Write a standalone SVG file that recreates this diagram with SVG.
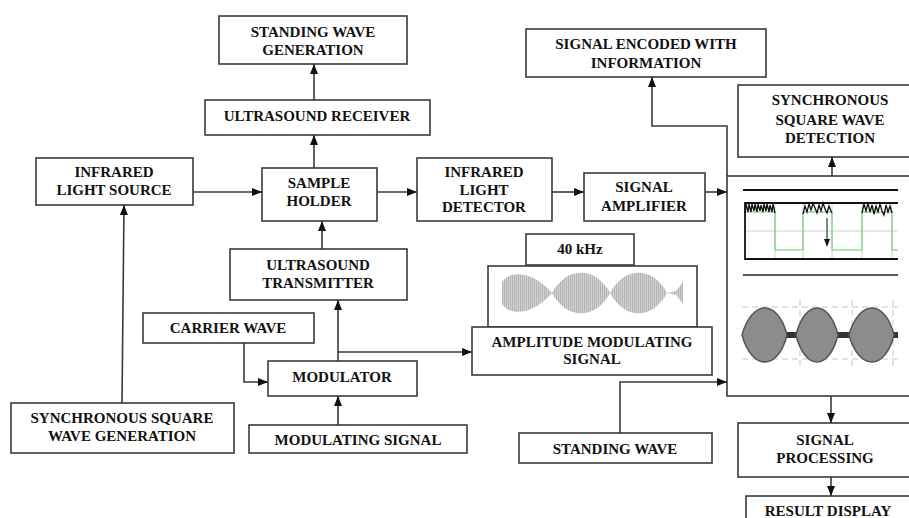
<svg xmlns="http://www.w3.org/2000/svg" width="909" height="518" viewBox="0 0 909 518">
<style>
.box{fill:#fff;stroke:#3a3a3a;stroke-width:1.6}
.t{font-family:"Liberation Serif","Times New Roman",serif;font-weight:bold;font-size:15px;fill:#111;text-anchor:middle}
.c{fill:none;stroke:#3a3a3a;stroke-width:1.6}
.ca{fill:none;stroke:#3a3a3a;stroke-width:1.6;marker-end:url(#ah)}
.grid{stroke:#d0d0d0;stroke-width:1;fill:none}
.noise{fill:none;stroke:#111;stroke-width:1.3}
</style>
<defs>
<marker id="ah" markerUnits="userSpaceOnUse" markerWidth="10" markerHeight="8" refX="10" refY="4" orient="auto">
<path d="M0,0 L10,4 L0,8 Z" fill="#111"/>
</marker>
<pattern id="hatch" patternUnits="userSpaceOnUse" width="2" height="4">
<rect width="2" height="4" fill="#d2d2d2"/>
<rect width="1" height="4" fill="#b4b4b4"/>
</pattern>
</defs>

<g id="standing-wave-generation">
<rect class="box" x="219" y="16" width="188" height="48"/>
<text class="t" x="313" y="37">STANDING WAVE</text>
<text class="t" x="313" y="55">GENERATION</text>
</g>
<g id="ultrasound-receiver">
<rect class="box" x="205" y="100" width="225" height="35"/>
<text class="t" x="317" y="121">ULTRASOUND RECEIVER</text>
</g>
<g id="infrared-light-source">
<rect class="box" x="36" y="158" width="157" height="47"/>
<text class="t" x="114" y="177">INFRARED</text>
<text class="t" x="114" y="195">LIGHT SOURCE</text>
</g>
<g id="sample-holder">
<rect class="box" x="262" y="168" width="115" height="53"/>
<text class="t" x="319" y="188">SAMPLE</text>
<text class="t" x="319" y="206">HOLDER</text>
</g>
<g id="infrared-light-detector">
<rect class="box" x="417" y="158" width="135" height="63"/>
<text class="t" x="484" y="177">INFRARED</text>
<text class="t" x="484" y="195">LIGHT</text>
<text class="t" x="484" y="212">DETECTOR</text>
</g>
<g id="signal-amplifier">
<rect class="box" x="584" y="173" width="121" height="48"/>
<text class="t" x="644" y="192">SIGNAL</text>
<text class="t" x="644" y="211">AMPLIFIER</text>
</g>
<g id="signal-encoded">
<rect class="box" x="526" y="29" width="240" height="48"/>
<text class="t" x="646" y="49">SIGNAL ENCODED WITH</text>
<text class="t" x="646" y="68">INFORMATION</text>
</g>
<g id="sync-square-wave-detection">
<rect class="box" x="738" y="85" width="180" height="72"/>
<text class="t" x="830" y="105">SYNCHRONOUS</text>
<text class="t" x="830" y="125">SQUARE WAVE</text>
<text class="t" x="830" y="143">DETECTION</text>
</g>
<g id="ultrasound-transmitter">
<rect class="box" x="230" y="249" width="177" height="51"/>
<text class="t" x="318" y="270">ULTRASOUND</text>
<text class="t" x="318" y="288">TRANSMITTER</text>
</g>
<g id="carrier-wave">
<rect class="box" x="143" y="313" width="171" height="30"/>
<text class="t" x="228" y="333">CARRIER WAVE</text>
</g>
<g id="modulator">
<rect class="box" x="268" y="361" width="149" height="35"/>
<text class="t" x="342" y="382">MODULATOR</text>
</g>
<g id="modulating-signal">
<rect class="box" x="249" y="425" width="218" height="28"/>
<text class="t" x="358" y="445">MODULATING SIGNAL</text>
</g>
<g id="sync-square-wave-generation">
<rect class="box" x="11" y="403" width="223" height="50"/>
<text class="t" x="122" y="423">SYNCHRONOUS SQUARE</text>
<text class="t" x="122" y="441">WAVE GENERATION</text>
</g>
<g id="forty-khz">
<rect class="box" x="526" y="234" width="108" height="31"/>
<text class="t" x="580" y="254">40 kHz</text>
</g>
<g id="am-waveform">
<rect class="box" x="488" y="266" width="209" height="61"/>
<path d="M502,293 L502,282 C508,272 530,268 552,293 C530,318 508,314 502,304 Z" fill="url(#hatch)"/>
<path d="M552,293 C566,266 596,266 610,293 C596,320 566,320 552,293 Z" fill="url(#hatch)"/>
<path d="M610,293 C624,266 653,266 667,293 C653,320 624,320 610,293 Z" fill="url(#hatch)"/>
<path d="M667,293 L676,291 L683,282 L683,304 L676,295 Z" fill="url(#hatch)"/>
</g>
<g id="amplitude-modulating-signal">
<rect class="box" x="472" y="327" width="240" height="48"/>
<text class="t" x="592" y="347">AMPLITUDE MODULATING</text>
<text class="t" x="592" y="364">SIGNAL</text>
</g>
<g id="standing-wave">
<rect class="box" x="519" y="433" width="193" height="30"/>
<text class="t" x="615" y="454">STANDING WAVE</text>
</g>
<g id="oscilloscope">
<rect class="box" x="727" y="176" width="200" height="220"/>
<line x1="743" y1="190" x2="898" y2="190" stroke="#111" stroke-width="2.2"/>
<path class="grid" d="M745,231 H898 M775,203 V259 M803,203 V259 M832,203 V259 M862,203 V259 M892,203 V259"/>
<path d="M745,212 H775 V250 H803 V212 H832 V250 H862 V212 H892 V250 H898" fill="none" stroke="#5fcf5f" stroke-width="1"/>
<path d="M898,203 H745 V259 H898" fill="none" stroke="#111" stroke-width="1.8"/>
<polyline class="noise" points="745,213 746,204 748,212 749,204 751,212 752,204 754,211 755,204 757,212 758,204 760,211 761,205 763,212 764,204 766,211 767,204 769,212 770,205 772,212 773,204 775,213"/>
<polyline class="noise" points="803,214 805,206 807,212 809,204 811,210 813,203 815,208 817,213 819,205 821,211 823,203 825,209 827,213 829,206 831,211 832,213"/>
<polyline class="noise" points="862,213 864,204 866,211 868,203 870,212 872,205 874,214 876,206 878,212 880,204 882,211 884,215 886,205 888,212 890,206 892,213"/>
<line x1="827" y1="218" x2="827" y2="240" stroke="#111" stroke-width="1"/>
<path d="M824,239 L827,247 L830,239 Z" fill="#111"/>
<line x1="743" y1="275" x2="898" y2="275" stroke="#222" stroke-width="1.6"/>
<path d="M742,307 H898 M742,359 H898 M800,300 V368 M852,300 V368 M893,300 V368" fill="none" stroke="#c4c4c4" stroke-width="1" stroke-dasharray="6,4"/>
<rect x="742" y="332" width="156" height="6" fill="#333"/>
<path d="M742,335 C752,299 778,299 787,335 C778,371 752,371 742,335 Z" fill="#8c8c8c" stroke="#555" stroke-width="1.5"/>
<path d="M796,335 C805,299 829,299 838,335 C829,371 805,371 796,335 Z" fill="#8c8c8c" stroke="#555" stroke-width="1.5"/>
<path d="M849,335 C859,299 885,299 894,335 C885,371 859,371 849,335 Z" fill="#8c8c8c" stroke="#555" stroke-width="1.5"/>
</g>
<g id="signal-processing">
<rect class="box" x="738" y="423" width="180" height="54"/>
<text class="t" x="825" y="445">SIGNAL</text>
<text class="t" x="825" y="463">PROCESSING</text>
</g>
<g id="result-display">
<rect class="box" x="746" y="496" width="180" height="30"/>
<text class="t" x="828" y="516">RESULT DISPLAY</text>
</g>

<g id="connectors">
<path class="ca" d="M193,192 H262"/>
<path class="ca" d="M314,168 V135"/>
<path class="ca" d="M314,100 V64"/>
<path class="ca" d="M377,192 H417"/>
<path class="ca" d="M552,192 H584"/>
<path class="ca" d="M705,192 H727"/>
<path class="ca" d="M727,176 V126 H652 V77"/>
<path class="ca" d="M832,176 V157"/>
<path class="ca" d="M322,249 V221"/>
<path class="ca" d="M338,361 V300"/>
<path class="ca" d="M338,352 H472"/>
<path class="ca" d="M244,343 V382 H268"/>
<path class="ca" d="M338,425 V396"/>
<path class="ca" d="M122,403 L124,205"/>
<path class="ca" d="M620,433 V382 H727"/>
<path class="ca" d="M831,396 V423"/>
<path class="ca" d="M831,477 V496"/>
</g>
</svg>
